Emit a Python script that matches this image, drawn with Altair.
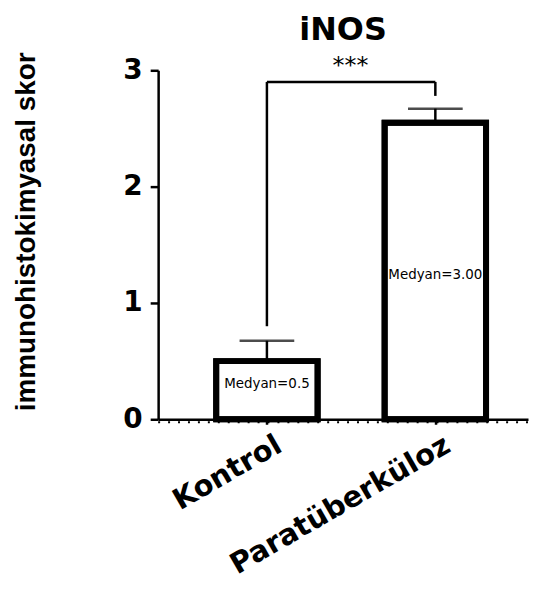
import altair as alt
import pandas as pd

groups = ["Kontrol", "Paratüberküloz"]
means = [0.5, 2.55]
err_hi = [0.675, 2.67]
median_labels = ["Medyan=0.5", "Medyan=3.00"]
median_y = [0.30, 1.24]
bracket_bottom = [0.80, 2.78]
bracket_top = 2.90
stars = "***"
stars_y = 2.93
y_ticks = [0, 1, 2, 3]

df = pd.DataFrame({
    "group": groups,
    "mean": means,
    "hi": err_hi,
    "label": median_labels,
    "ly": median_y,
    "bb": bracket_bottom,
    "bt": [bracket_top] * len(groups),
})
br = pd.DataFrame({"g1": [groups[0]], "g2": [groups[1]], "y": [bracket_top],
                   "sy": [stars_y], "stars": [stars]})
zero = pd.DataFrame({"z": [0]})

xscale = alt.Scale(type="point", padding=0.598, align=0.54, domain=groups)
xaxis = alt.Axis(title=None, labelAngle=-30, labelAlign="right", labelBaseline="top",
                 labelFont="DejaVu Sans", labelFontSize=29, labelFontWeight="bold",
                 labelPadding=6, labelOffset=5, labelLimit=0, tickSize=5, tickWidth=2.5,
                 domainWidth=2.5, domainColor="black", tickColor="black",
                 labelColor="black")
yscale = alt.Scale(domain=[0, 3], nice=False)
yaxis = alt.Axis(values=y_ticks, format="d", title="immunohistokimyasal skor",
                 titleFont="Liberation Sans", titleFontSize=28, titleFontWeight="bold",
                 titleColor="black", titleX=-118, titleY=162,
                 labelFont="DejaVu Sans", labelFontSize=28, labelFontWeight="bold",
                 labelColor="black", labelPadding=8, tickSize=8, tickWidth=2.5,
                 domainWidth=2.5, domainColor="black", tickColor="black", grid=False)

X = alt.X("group:N", scale=xscale, axis=xaxis)
base = alt.Chart(df)

bars = base.mark_bar(fill="white", stroke="black", strokeWidth=6, size=102).encode(
    x=X, y=alt.Y("mean:Q", scale=yscale, axis=yaxis))
stems = base.mark_rule(color="black", strokeWidth=2.5).encode(
    x=X, y=alt.Y("mean:Q"), y2="hi:Q")
caps = base.mark_tick(orient="horizontal", size=55, thickness=2.5, color="black").encode(
    x=X, y=alt.Y("hi:Q"))
texts = base.mark_text(font="DejaVu Sans", fontSize=13.5, color="black").encode(
    x=X, y=alt.Y("ly:Q"), text="label:N")
outline = base.mark_bar(fillOpacity=0, stroke="black", strokeWidth=6, size=102).encode(
    x=X, y=alt.Y("mean:Q"))
legs = base.mark_rule(color="black", strokeWidth=2.5).encode(
    x=X, y=alt.Y("bb:Q"), y2="bt:Q")
top = alt.Chart(br).mark_rule(color="black", strokeWidth=2.5).encode(
    x=alt.X("g1:N", scale=xscale, axis=xaxis), x2="g2:N", y=alt.Y("y:Q"))
star = alt.Chart(br).mark_text(font="DejaVu Sans", fontSize=24, color="black",
                               baseline="bottom", dx=84).encode(
    x=alt.X("g1:N", scale=xscale, axis=xaxis), y=alt.Y("sy:Q"), text="stars:N")
dots = alt.Chart(zero).mark_rule(color="black", strokeWidth=2, strokeDash=[2, 8],
                                 yOffset=3).encode(y=alt.Y("z:Q"))

chart = alt.layer(bars, stems, caps, texts, outline, legs, top, star, dots).properties(
    width=372, height=351,
    padding={"left": 4, "top": 4, "right": 0, "bottom": 0},
    title=alt.TitleParams("iNOS", font="DejaVu Sans", fontSize=32, fontWeight="bold",
                          anchor="middle", frame="group", offset=5, color="black"),
).configure_view(stroke=None)

chart.save("out.html", embed_options={"renderer": "svg", "actions": False})
